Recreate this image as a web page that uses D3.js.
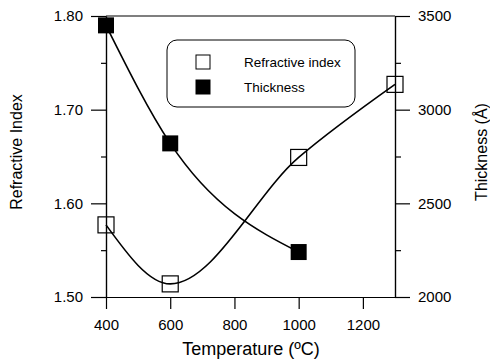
<!DOCTYPE html>
<html>
<head>
<meta charset="utf-8">
<script src="https://cdn.jsdelivr.net/npm/d3@7"></script>
<style>
  html, body { margin: 0; padding: 0; background: #fff; }
  svg { display: block; font-family: "Liberation Sans", Arial, sans-serif; }
  .tick text { fill: #000; }
</style>
</head>
<body>
<svg id="chart" width="490" height="363"></svg>
<script>
// data
const riTemps = [400, 600, 1000, 1300];
const riValues = [1.577, 1.514, 1.649, 1.727];
const thTemps = [400, 600, 1000];
const thValues = [3450, 2820, 2240];

const xTicks = [400, 600, 800, 1000, 1200];
const riTicks = [1.50, 1.60, 1.70, 1.80];
const riMinor = [1.55, 1.65, 1.75];
const thTicks = [2000, 2500, 3000, 3500];
const thMinor = [2250, 2750, 3250];

const legendLabels = ["Refractive index", "Thickness"];

const svg = d3.select("#chart");
const box = { left: 106, right: 395, top: 16, bottom: 297 };

const x = d3.scaleLinear().domain([400, 1300]).range([box.left, box.right]);
const yL = d3.scaleLinear().domain([1.50, 1.80]).range([box.bottom, box.top]);
const yR = d3.scaleLinear().domain([2000, 3500]).range([box.bottom, box.top]);

// axes
svg.append("g").attr("transform", `translate(0,${box.bottom})`)
    .call(d3.axisBottom(x).tickValues(xTicks).tickSize(12).tickSizeOuter(0).tickPadding(10).tickFormat(d3.format("d")));
svg.append("g").attr("transform", `translate(${box.left},0)`)
    .call(d3.axisLeft(yL).tickValues(riTicks).tickSize(15).tickSizeOuter(0).tickPadding(8).tickFormat(d3.format(".2f")));
svg.append("g").attr("transform", `translate(${box.left},0)`)
    .call(d3.axisLeft(yL).tickValues(riMinor).tickSize(5).tickSizeOuter(0).tickFormat(""));
svg.append("g").attr("transform", `translate(${box.right},0)`)
    .call(d3.axisRight(yR).tickValues(thTicks).tickSize(15).tickSizeOuter(0).tickPadding(8).tickFormat(d3.format("d")));
svg.append("g").attr("transform", `translate(${box.right},0)`)
    .call(d3.axisRight(yR).tickValues(thMinor).tickSize(6).tickSizeOuter(0).tickFormat(""));

// top frame line
svg.append("line")
    .attr("x1", x(400)).attr("x2", x(1300))
    .attr("y1", yL(1.80)).attr("y2", yL(1.80))
    .attr("stroke", "#000").attr("stroke-width", 1.2);

svg.selectAll(".tick text").attr("font-size", 15).attr("font-family", "Liberation Sans, Arial, sans-serif");
svg.selectAll(".domain, .tick line").attr("stroke", "#000").attr("stroke-width", 1.2);

// axis titles
svg.append("text")
    .attr("transform", `translate(22,152) rotate(-90)`)
    .attr("text-anchor", "middle").attr("font-size", 16)
    .text("Refractive Index");
svg.append("text")
    .attr("transform", `translate(487,152) rotate(-90)`)
    .attr("text-anchor", "middle").attr("font-size", 16)
    .text("Thickness (Å)");
svg.append("text")
    .attr("x", 251).attr("y", 355)
    .attr("text-anchor", "middle").attr("font-size", 18)
    .text("Temperature (ºC)");

// curves
const riPts = riTemps.map((t, i) => [t, riValues[i]]);
const thPts = thTemps.map((t, i) => [t, thValues[i]]);

svg.append("path").datum(riPts)
    .attr("fill", "none").attr("stroke", "#000").attr("stroke-width", 1.6)
    .attr("d", d3.line().x(d => x(d[0])).y(d => yL(d[1])).curve(d3.curveMonotoneX));
svg.append("path").datum(thPts)
    .attr("fill", "none").attr("stroke", "#000").attr("stroke-width", 1.6)
    .attr("d", d3.line().x(d => x(d[0])).y(d => yR(d[1])).curve(d3.curveMonotoneX));

// markers
const sq = 16;
svg.append("g").selectAll("rect").data(riPts).join("rect")
    .attr("x", d => x(d[0]) - sq / 2).attr("y", d => yL(d[1]) - sq / 2)
    .attr("width", sq).attr("height", sq)
    .attr("fill", "none").attr("stroke", "#000").attr("stroke-width", 1.2);
svg.append("g").selectAll("rect").data(thPts).join("rect")
    .attr("x", d => x(d[0]) - sq / 2).attr("y", d => yR(d[1]) - sq / 2)
    .attr("width", sq).attr("height", sq)
    .attr("fill", "#000");

// legend
const lg = svg.append("g");
lg.append("rect")
    .attr("x", 167).attr("y", 40).attr("width", 188).attr("height", 67).attr("rx", 10)
    .attr("fill", "#fff").attr("stroke", "#000").attr("stroke-width", 1);
legendLabels.forEach((label, i) => {
    const cy = 62 + i * 25;
    lg.append("rect")
        .attr("x", 196).attr("y", cy - 7).attr("width", 14).attr("height", 14)
        .attr("fill", i === 0 ? "#fff" : "#000").attr("stroke", "#000").attr("stroke-width", 1);
    lg.append("text")
        .attr("x", 244).attr("y", cy).attr("dy", "0.35em")
        .attr("font-size", 13.5).text(label);
});
</script>
</body>
</html>
